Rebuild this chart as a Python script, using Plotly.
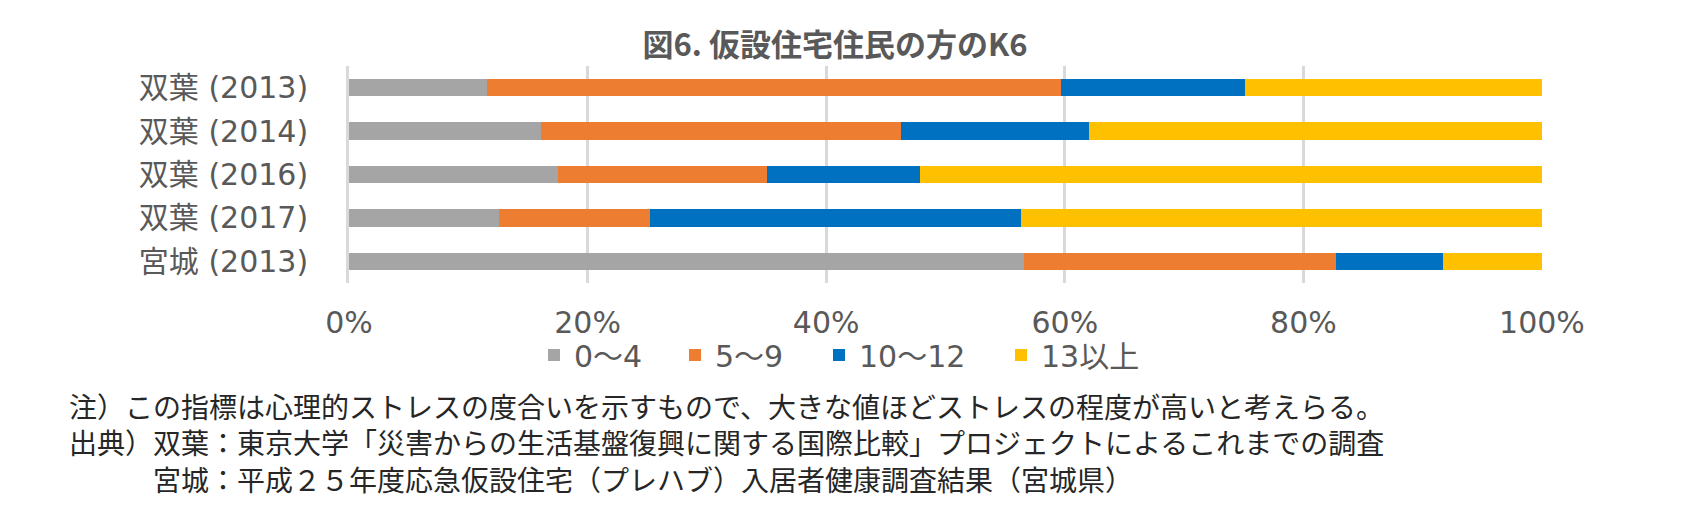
import plotly.graph_objects as go

categories = ["双葉 (2013)", "双葉 (2014)", "双葉 (2016)", "双葉 (2017)", "宮城 (2013)"]
series_names = ["0～4", "5～9", "10～12", "13以上"]
v_0_4 = [11.6, 16.1, 17.5, 12.6, 56.6]
v_5_9 = [48.1, 30.2, 17.5, 12.6, 26.1]
v_10_12 = [15.4, 15.7, 12.9, 31.1, 9.0]
v_13 = [24.9, 38.0, 52.1, 43.7, 8.3]
tick_vals = [0, 20, 40, 60, 80, 100]
tick_text = ["0%", "20%", "40%", "60%", "80%", "100%"]
colors = ["#A5A5A5", "#ED7D31", "#0070C0", "#FFC000"]

title_text = "<b>図6. 仮設住宅住民の方のK6</b>"
note_lines = [
    "注）この指標は心理的ストレスの度合いを示すもので、大きな値ほどストレスの程度が高いと考えらる。",
    "出典）双葉：東京大学「災害からの生活基盤復興に関する国際比較」プロジェクトによるこれまでの調査",
    "　　　宮城：平成２５年度応急仮設住宅（プレハブ）入居者健康調査結果（宮城県）",
]

W, H = 1702, 520
L, R, T, B = 341, 168, 58, 245
PW, PH = W - L - R, H - T - B

font_fam = "DejaVu Sans, Noto Sans CJK JP, sans-serif"


def px_x(px):
    return (px - L) / PW


def px_y(py):
    return (H - B - py) / PH


legend_x_px = [526, 667, 811, 993]
legend_names = ["legend", "legend2", "legend3", "legend4"]

fig = go.Figure()
for name, vals, col, lg in zip(series_names, [v_0_4, v_5_9, v_10_12, v_13], colors, legend_names):
    fig.add_trace(go.Bar(y=categories, x=vals, name=name, orientation="h", legend=lg,
                         showlegend=True, marker=dict(color=col, line=dict(width=0))))

annotations = [dict(text="<br>".join(note_lines), xref="paper", yref="paper",
                    x=px_x(59), y=px_y(434), xanchor="left", yanchor="middle", align="left",
                    showarrow=False,
                    font=dict(family="Noto Sans CJK JP", size=28, color="#262626"))]

legend_layout = {}
for lg, lx in zip(legend_names, legend_x_px):
    legend_layout[lg] = dict(orientation="h", x=px_x(lx), y=px_y(347), xanchor="left",
                             yanchor="middle", itemwidth=30, bgcolor="rgba(0,0,0,0)",
                             font=dict(family=font_fam, size=30, color="#595959"))

fig.update_layout(
    width=W, height=H,
    margin=dict(l=L, r=R, t=T, b=B, autoexpand=False),
    barmode="stack", bargap=0.6, showlegend=True,
    plot_bgcolor="white", paper_bgcolor="white",
    font=dict(family=font_fam, size=30, color="#595959"),
    title=dict(text=title_text, x=827 / W, y=1 - 37 / H, xref="container", yref="container",
               xanchor="center", yanchor="middle",
               font=dict(family="Noto Sans CJK JP", size=31, color="#595959")),
    xaxis=dict(range=[0, 100], tickvals=tick_vals, ticktext=tick_text, showgrid=True,
               gridcolor="#D9D9D9", gridwidth=2.7, zeroline=False, showline=False,
               ticklabelstandoff=19, fixedrange=True),
    yaxis=dict(categoryorder="array", categoryarray=categories[::-1], showgrid=False,
               showline=True, linecolor="#D9D9D9", linewidth=2.7, ticklabelstandoff=32,
               fixedrange=True),
    annotations=annotations,
    **legend_layout,
)

fig.write_html("out.html")
